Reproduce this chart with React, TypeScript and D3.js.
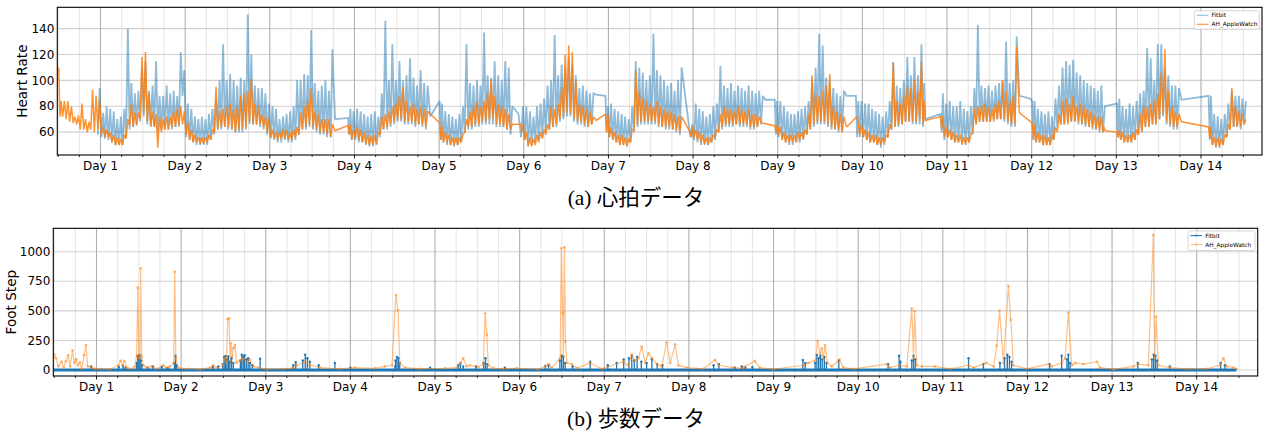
import React from 'react';
import * as d3 from 'd3';

// ---------- DATA ----------
const dayLabels = ['Day 1','Day 2','Day 3','Day 4','Day 5','Day 6','Day 7','Day 8','Day 9','Day 10','Day 11','Day 12','Day 13','Day 14'];
const hrTicks = [60, 80, 100, 120, 140];
const stepTicks = [0, 250, 500, 750, 1000];
const seriesNames = ['Fitbit', 'AH_AppleWatch'];

// Heart rate: first chunk = 12 h before Day 1, then one chunk per day.
// One token per hour: readings within that hour separated by "/", "x" = no data.
const fitbitHR: string[] = [
  'x x x x x x x x x x x 58/94',
  '56/75 55/80 54/78 52/76 50/70 50/72 50/78 56/140 62/98 64/90 65/92 68/110 72/115 66/92 64/96 64/115 60/88 62/88 62/96 62/90 62/92 64/88 64/122 88/108',
  '56/82 54/78 52/72 50/70 50/72 50/70 50/74 54/78 58/85 62/100 62/128 64/100 62/105 62/100 60/96 60/102 60/100 62/151 66/120 66/96 66/94 64/94 62/90 58/82',
  '55/80 54/78 52/70 52/72 54/74 52/76 52/80 54/100 58/100 62/105 62/104 64/139 62/98 60/92 58/96 58/100 56/92 56/124 70 x x x 71/58/78 54/76',
  '54/78 52/76 52/74 50/72 49/74 49/76 50/72 56/90 62/146 62/100 64/128 66/100 68/115 68/100 66/104 66/117 66/102 64/96 66/108 64/98 62/96 72 x x',
  '84/54/82 52/76 50/74 50/72 49/70 50/74 52/80 60/128 62/98 62/96 64/100 64/96 66/137 66/104 66/102 66/115 64/104 64/100 64/115 62/110 58/80 x 74 56/80',
  '54/80 50/76 50/72 52/80 54/82 56/86 60/96 62/100 64/135 64/104 68/112 70/110 72/118 72/112 68/104 66/94 66/96 64/92 64/90 66/90 89 x x 88/60/80',
  '56/82 54/78 52/76 50/74 50/72 49/70 52/80 60/115 64/110 66/106 66/100 66/104 66/136 66/108 64/104 64/100 62/96 62/98 62/92 60/100 58/110 x x 56/66',
  '54/82 52/78 50/76 50/72 50/74 52/80 54/82 60/111 62/96 64/94 64/98 64/92 66/96 64/94 64/92 64/96 62/92 62/90 64/92 66/88 85 x x 85/58/84',
  '56/84 54/80 52/76 50/74 50/74 52/76 52/78 54/80 58/84 62/100 64/110 66/136 66/127 66/102 64/100 62/94 62/90 60/88 60/92 88 x x 88/56/84 56/84',
  '56/82 54/82 52/78 52/76 50/74 48/72 50/76 56/84 62/114 64/96 64/94 66/100 68/118 68/104 66/118 66/104 66/128 64/98/70 x x x x 74/60/90 54/82',
  '56/84 54/80 52/80 52/84 50/78 50/76 52/80 58/94 66/143 68/96 68/94 68/96 68/92 70/96 70/98 70/100 68/130 66/98 64/100 64/134 88 x x 86',
  '84/54/84 52/78 52/76 50/74 50/76 50/72 54/86 64/96 66/110 66/115 68/112 68/116 68/106 66/104 66/100 64/98 64/96 62/94 62/92 60/96 60/80 x x x',
  '82/56/86 54/80 52/78 52/82 52/80 54/84 58/90 60/92 64/125 64/117 66/100 66/128 70/128 72/108 66/104 64/96 62/96 62/94 85 x x x x x',
  'x x 88/54/88 50/74 48/72 48/70 50/74 56/82 62/92 64/88 64/88 62/86 66/84',
];

const appleHR: string[] = [
  '110/72/84 72/84 70/84 68/80 67/72 66/73 62/82 62/70 60/68 62/93 60/88 62/86',
  '58/64 56/62 56/60 52/58 50/56 50/55 50/58 55/70 65/82 64/75 66/75 70/118 75/122 68/90 65/76 64/74 48/72 60/70 62/72 62/72 64/76 64/78 66/80 66/76',
  '58/68 54/62 52/58 52/56 51/56 51/56 52/58 54/62 60/95 62/76 64/78 64/80 64/82 62/78 60/80 62/88 62/90 64/92 68/101 66/82 66/80 66/74 64/72 60/70',
  '56/62 55/60 54/60 55/62 55/62 54/60 54/62 56/64 58/75 62/80 64/85 66/94 64/76 62/74 60/70 60/70 58/70 56/66 61 x x x 65/58/66 54/62',
  '56/64 54/62 52/60 51/58 50/57 50/58 51/60 58/72 62/74 64/76 66/80 68/82 70/88 70/95 68/84 68/80 68/82 66/78 66/80 66/78 64/76 74 x x',
  '67/54/64 52/60 52/58 50/56 50/56 50/56 52/58 60/70 64/76 64/80 66/84 66/80 68/84 68/90 70/101 70/88 66/82 66/80 64/78 62/74 62/66 x x 66/60/66',
  '54/60 49/56 49/55 50/58 52/60 55/62 58/66 62/80 64/78 66/82 70/95 72/120 76/127 74/122 70/100 68/82 68/80 66/78 64/76 66/72 69 x x 74/60/74',
  '56/64 54/60 52/58 50/58 50/56 49/55 52/62 62/108 66/92 68/86 68/84 68/82 68/80 68/84 66/80 64/78 64/76 64/76 62/74 62/72 60/72 x x 60/56/64',
  '56/62 54/60 52/58 51/56 50/56 52/58 56/62 60/74 64/80 66/78 66/78 66/76 66/80 66/78 66/76 66/78 64/74 64/74 64/72 67 x x x 65/60/66',
  '58/64 54/60 52/58 52/58 52/58 52/60 54/60 55/62 58/74 62/104 66/90 68/88 68/92 68/96 66/105 64/80 62/76 62/74 60/72 64 x x 72 58/66',
  '56/62 54/60 52/58 52/58 50/56 50/56 52/58 56/66 62/114 64/84 66/82 66/88 68/96 68/94 68/100 68/92 70/114 66/84/69 x x x x 72/62/72 56/64',
  '56/62 54/60 52/58 52/58 51/56 51/56 52/58 60/78 66/80 68/80 68/82 68/80 68/78 68/82 70/84 70/100 70/92 68/84 66/88 66/126 75 x x x',
  '67/54/66 52/60 52/58 50/58 50/56 50/58 54/64 60/74 66/84 66/86 66/82 68/88 68/80 68/82 66/80 66/78 64/76 64/74 62/72 62/72 60/64/61 x x x',
  '60/56/62 54/60 52/58 52/58 52/60 54/62 58/74 60/80 64/80 64/82 66/84 66/90 70/106 74/124 68/92 66/80 64/76 64/74 68 x x x x x',
  'x x 64/55/64 50/56 49/56 49/55 50/58 56/66 62/94 64/80 64/76 64/74 66/70',
];

// Foot steps: [hour from Day 1 00:00, steps]
const fitbitStepSpan: [number, number] = [-12.25, 323.3];
const fitbitSteps: [number, number][] = [
  [-1.5,30],[6.3,25],[7.5,35],[8.2,20],[11.4,60],[11.7,120],[12.0,110],[12.3,125],[12.6,80],[12.9,40],[14.5,20],[16.0,30],[18.5,25],[20.2,15],
  [22.1,60],[22.4,120],[22.7,40],[33,25],[34.5,30],[35.8,50],[36.2,110],[36.6,118],[37.0,90],[37.4,115],[37.8,70],[38.3,100],[38.8,60],
  [40.8,80],[41.2,130],[41.6,110],[42.0,125],[42.5,90],[43.0,100],[43.5,60],[44.2,40],[46.4,95],[55.8,40],[56.5,65],[58.5,80],[59.2,130],
  [59.8,100],[60.5,70],[63,40],[67.6,60],[72,20],[84.7,30],[84.8,80],[85.2,110],[85.6,100],[86.0,60],[94.6,20],[102.6,40],[103.2,55],[104,30],
  [107.6,30],[109.8,60],[110.3,100],[110.8,50],[115.8,20],[127.3,35],[128.2,40],[131.4,80],[131.9,120],[132.4,110],[132.9,60],[135,30],[140,70],
  [145,40],[147.5,60],[149.5,90],[151,100],[151.8,120],[152.5,80],[153.3,110],[154.5,70],[156,60],[157.5,90],[159,50],[160.5,40],[175,40],
  [176.5,50],[181,20],[183,30],[184,20],[186,25],[200.3,85],[201,60],[203.8,60],[204.3,127],[204.8,100],[205.3,120],[205.8,90],[206.4,110],
  [207,60],[210.5,80],[224.5,50],[227.6,120],[228,70],[231.2,80],[231.7,120],[232.2,90],[247.3,100],[251.5,50],[256.2,60],[257.5,100],
  [258.3,130],[258.9,110],[259.5,70],[270.3,50],[273.7,120],[275.2,90],[275.6,130],[276.1,60],[295.3,60],[299.3,90],[299.8,130],[300.3,120],
  [300.8,80],[304.4,30],[318.8,60],[320,40],
];
const appleSteps: [number, number][] = [
  [-12.0,130],[-11.5,100],[-10.8,30],[-9.9,70],[-9.3,20],[-8.7,75],[-8.0,125],[-7.5,30],[-6.8,165],[-6.3,60],[-5.8,90],[-5.3,40],[-4.7,65],
  [-4.2,10],[-3.5,125],[-3.0,210],[-2.5,30],[-1.3,20],[-0.4,10],[0.9,10],[3.8,5],[6.2,40],[6.8,80],[7.4,40],[7.9,75],[8.6,20],[10.0,10],
  [10.9,30],[11.4,120],[11.7,696],[12.0,100],[12.3,120],[12.5,859],[12.8,110],[13.3,40],[14.2,20],[15.6,30],[17.0,10],[18.9,40],[19.7,20],
  [20.8,30],[21.9,60],[22.2,831],[22.5,100],[23.2,20],[25.5,10],[29.3,5],[32.2,20],[33.1,40],[34.1,15],[35.8,40],[36.4,100],[36.9,60],
  [37.2,430],[37.6,437],[37.9,80],[38.1,225],[38.5,120],[38.8,183],[39.3,211],[39.7,60],[40.7,80],[41.6,100],[42.6,60],[43.5,90],[44.5,30],
  [45.9,20],[48.3,5],[53.0,10],[55.3,15],[56.8,40],[59.1,70],[60.5,40],[63.4,20],[69.0,10],[73.3,20],[79,15],[81.8,30],[83.8,40],[84.9,633],
  [85.5,506],[86,60],[87.5,20],[91.7,10],[98.8,15],[102.1,20],[103.1,60],[104.0,100],[105.0,30],[105.9,40],[108.3,25],[109.7,50],[110.2,479],
  [110.7,296],[111.1,40],[112.6,15],[115.4,10],[119.2,15],[125.3,5],[127.2,30],[128.2,50],[129.1,20],[131.5,100],[131.8,1028],[132.2,479],
  [132.4,120],[132.7,1037],[133.0,240],[133.4,60],[134.8,50],[136.2,15],[140.0,60],[143.3,10],[149.4,70],[150.8,40],[151.8,130],[152.7,80],
  [153.7,100],[154.6,197],[155.6,60],[156.5,141],[157.5,100],[158.9,50],[160.3,30],[161.7,234],[162.7,60],[164.1,217],[165.0,40],[167.4,20],
  [172.1,10],[175.4,85],[176.4,40],[180.6,20],[183.5,15],[183.9,30],[186.7,76],[188.1,20],[191.9,5],[200.4,40],[201.9,60],[203.8,80],
  [204.5,245],[205.2,141],[205.7,183],[206.1,90],[206.6,211],[207.3,60],[208.5,30],[210.7,87],[211.8,20],[214.7,10],[224.1,50],[225.0,20],
  [227.7,40],[229.8,30],[231.2,521],[231.7,100],[232.0,498],[232.6,40],[234.1,30],[237.8,30],[242.1,10],[247.3,40],[248.7,20],[252.3,60],
  [254.4,30],[255.3,206],[256.1,501],[257.2,60],[258.6,710],[259.3,423],[260.0,40],[263.8,10],[270.0,50],[270.9,30],[273.7,60],[274.7,100],
  [275.6,484],[276.6,40],[277.5,60],[279.9,50],[283.7,70],[284.6,20],[288.4,5],[294.0,30],[295.4,50],[298.3,40],[299.7,1141],[300.1,100],
  [300.5,451],[301.1,40],[304.4,20],[309.1,10],[314.8,10],[318.6,40],[319.6,100],[320.5,30],[322.4,20],[323.3,10],
];

const captions = ['(a) 心拍データ', '(b) 歩数データ'];

// ---------- HELPERS ----------
function parseHR(chunks: string[]): [number, number][] {
  const pts: [number, number][] = [];
  chunks.forEach((chunk, ci) => {
    const start = ci === 0 ? -12 : (ci - 1) * 24;
    chunk.trim().split(/\s+/).forEach((tok, i) => {
      if (tok === 'x') return;
      const vals = tok.split('/').map(Number);
      vals.forEach((v, j) => pts.push([start + i + (j + 0.5) / vals.length, v]));
    });
  });
  return pts;
}

const C0 = '#1f77b4';
const C1 = '#ff7f0e';
const FONT = "'DejaVu Sans', sans-serif";
const dayHours = dayLabels.map((_, i) => i * 24);
const minorHours = d3.range(-12, 330, 6).filter((h) => h % 24 !== 0);

function Frame(props: {
  x: d3.ScaleLinear<number, number>; y: d3.ScaleLinear<number, number>;
  yTicks: number[]; children?: React.ReactNode; ylabel: string; ylabelX: number;
}) {
  const { x, y, yTicks, ylabel, ylabelX } = props;
  const [x0, x1] = x.range();
  const [y0, y1] = y.range(); // y0 bottom, y1 top
  return (
    <g>
      {minorHours.map((h) => (
        <line key={'m' + h} x1={x(h)} x2={x(h)} y1={y1} y2={y0} stroke="#e6e6e6" strokeWidth={1.1} />
      ))}
      {yTicks.map((t) => (
        <line key={'h' + t} x1={x0} x2={x1} y1={y(t)} y2={y(t)} stroke="#d0d0d0" strokeWidth={1.1} />
      ))}
      {dayHours.map((h) => (
        <line key={'d' + h} x1={x(h)} x2={x(h)} y1={y1} y2={y0} stroke="#b0b0b0" strokeWidth={1.1} />
      ))}
      {props.children}
      <rect x={x0} y={y1} width={x1 - x0} height={y0 - y1} fill="none" stroke="#000" strokeWidth={1.1} />
      {minorHours.map((h) => (
        <line key={'mt' + h} x1={x(h)} x2={x(h)} y1={y0} y2={y0 + 2} stroke="#000" strokeWidth={0.8} />
      ))}
      {dayHours.map((h, i) => (
        <g key={'dt' + h}>
          <line x1={x(h)} x2={x(h)} y1={y0} y2={y0 + 3.5} stroke="#000" strokeWidth={0.9} />
          <text x={x(h)} y={y0 + 14.5} textAnchor="middle" fontSize={12} fontFamily={FONT} fill="#000">{dayLabels[i]}</text>
        </g>
      ))}
      {yTicks.map((t) => (
        <text key={'yt' + t} x={x0 - 3} y={y(t)} dy="0.35em" textAnchor="end" fontSize={12} fontFamily={FONT} fill="#000">{t}</text>
      ))}
      <text transform={`translate(${ylabelX},${(y0 + y1) / 2}) rotate(-90)`} textAnchor="middle" fontSize={13.6} fontFamily={FONT} fill="#000">{ylabel}</text>
    </g>
  );
}

function Legend(props: { x: number; y: number; w: number; h: number; markers: boolean }) {
  const { x, y, w, h, markers } = props;
  const rows = [
    { name: seriesNames[0], color: C0, op: markers ? 1 : 0.5, dy: 4.6 },
    { name: seriesNames[1], color: C1, op: markers ? 0.5 : 0.85, dy: 13.6 },
  ];
  return (
    <g>
      <rect x={x} y={y} width={w} height={h} rx={1.5} fill="#fff" fillOpacity={0.85} stroke="#cccccc" strokeWidth={0.8} />
      {rows.map((r) => (
        <g key={r.name}>
          <line x1={x + 2.4} x2={x + 14} y1={y + r.dy} y2={y + r.dy} stroke={r.color} strokeOpacity={r.op} strokeWidth={1.1} />
          {markers && <circle cx={x + 8.2} cy={y + r.dy} r={1} fill={r.color} fillOpacity={r.op} />}
          <text x={x + 17.3} y={y + r.dy} dy="0.35em" fontSize={5.8} fontFamily={FONT} fill="#000">{r.name}</text>
        </g>
      ))}
    </g>
  );
}

export default function App() {
  const W = 1266, H = 434;
  const xTop = d3.scaleLinear().domain([-12.25, 329.3]).range([57.3, 1262]);
  const yTop = d3.scaleLinear().domain([42.3, 156.5]).range([155, 7.3]);
  const xBot = d3.scaleLinear().domain([-12.25, 329.3]).range([53.3, 1257.7]);
  const yBot = d3.scaleLinear().domain([-50.6, 1197.6]).range([376, 228.3]);

  const fitHR = parseHR(fitbitHR);
  const appHR = parseHR(appleHR);
  const lineTop = d3.line<[number, number]>().x((d) => xTop(d[0])).y((d) => yTop(d[1]));
  const lineBot = d3.line<[number, number]>().x((d) => xBot(d[0])).y((d) => yBot(d[1]));

  return (
    <svg width={W} height={H} viewBox={`0 0 ${W} ${H}`} style={{ position: 'absolute', left: 0, top: 0, background: '#fff' }}>
      <rect width={W} height={H} fill="#fff" />
      <defs>
        <clipPath id="cTop"><rect x={57.3} y={7.3} width={1262 - 57.3} height={155 - 7.3} /></clipPath>
        <clipPath id="cBot"><rect x={53.3} y={228.3} width={1257.7 - 53.3} height={376 - 228.3} /></clipPath>
      </defs>

      {/* (a) heart rate */}
      <Frame x={xTop} y={yTop} yTicks={hrTicks} ylabel="Heart Rate" ylabelX={27}>
        <g clipPath="url(#cTop)">
          <path d={lineTop(fitHR) || ''} fill="none" stroke={C0} strokeOpacity={0.5} strokeWidth={1.8} strokeLinejoin="miter" strokeMiterlimit={2} />
          <path d={lineTop(appHR) || ''} fill="none" stroke={C1} strokeOpacity={0.85} strokeWidth={1.5} strokeLinejoin="miter" strokeMiterlimit={2} />
        </g>
      </Frame>
      <Legend x={1194.3} y={10.7} w={65} h={18.6} markers={false} />

      {/* (b) foot steps */}
      <Frame x={xBot} y={yBot} yTicks={stepTicks} ylabel="Foot Step" ylabelX={16}>
        <g clipPath="url(#cBot)">
          <line x1={xBot(fitbitStepSpan[0])} x2={xBot(fitbitStepSpan[1])} y1={yBot(0)} y2={yBot(0)} stroke={C0} strokeWidth={3.2} />
          {fitbitSteps.map((d, i) => (
            <g key={'fs' + i}>
              <line x1={xBot(d[0])} x2={xBot(d[0])} y1={yBot(0)} y2={yBot(d[1])} stroke={C0} strokeWidth={1.3} />
              <circle cx={xBot(d[0])} cy={yBot(d[1])} r={1.2} fill={C0} />
            </g>
          ))}
          <path d={lineBot(appleSteps) || ''} fill="none" stroke={C1} strokeOpacity={0.5} strokeWidth={1.2} strokeLinejoin="round" />
          {appleSteps.map((d, i) => (
            <circle key={'as' + i} cx={xBot(d[0])} cy={yBot(d[1])} r={1.4} fill={C1} fillOpacity={0.5} />
          ))}
        </g>
      </Frame>
      <Legend x={1188} y={231} w={67} h={19.5} markers={true} />

      <text x={636} y={205} textAnchor="middle" fontSize={21.5} fontFamily="'Liberation Serif', 'Noto Sans CJK JP', serif" fill="#000">{captions[0]}</text>
      <text x={636} y={426} textAnchor="middle" fontSize={21.5} fontFamily="'Liberation Serif', 'Noto Sans CJK JP', serif" fill="#000">{captions[1]}</text>
    </svg>
  );
}
